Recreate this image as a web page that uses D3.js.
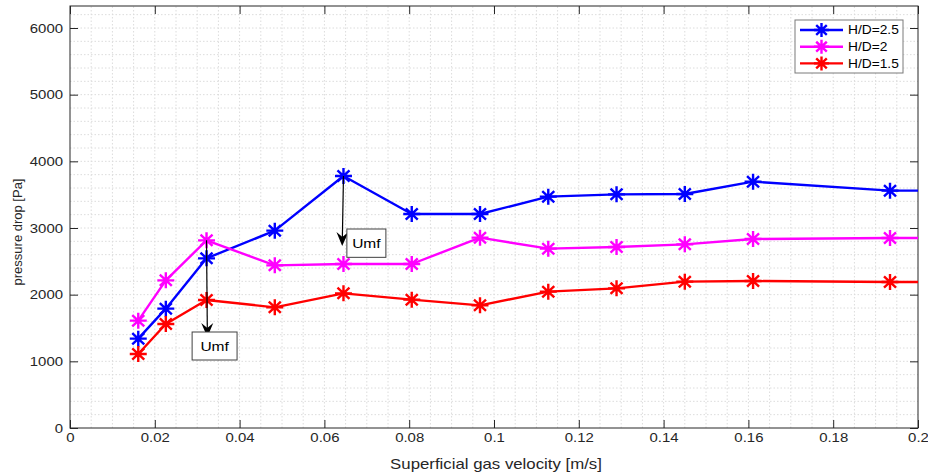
<!DOCTYPE html>
<html>
<head>
<meta charset="utf-8">
<script src="https://cdn.jsdelivr.net/npm/d3@7"></script>
<style>
  html, body { margin: 0; padding: 0; background: #fff; }
  svg { display: block; font-family: "Liberation Sans", Arial, Helvetica, sans-serif; }
</style>
</head>
<body>
<svg id="chart" width="928" height="475"></svg>
<script>
// Superficial gas velocity [m/s]
const velocity = [0.0161, 0.0226, 0.0322, 0.0483, 0.0645, 0.0806, 0.0967, 0.1128, 0.1289, 0.1450, 0.1611, 0.1934, 0.2256];

// Pressure drop [Pa] for each bed height ratio
const dpHD25 = [1340, 1790, 2545, 2960, 3780, 3210, 3210, 3470, 3505, 3510, 3695, 3560, 3560];
const dpHD20 = [1610, 2215, 2815, 2440, 2460, 2460, 2855, 2690, 2715, 2755, 2835, 2850, 2850];
const dpHD15 = [1110, 1560, 1920, 1810, 2020, 1925, 1840, 2045, 2095, 2195, 2205, 2190, 2190];

const seriesNames = ["H/D=2.5", "H/D=2", "H/D=1.5"];
const seriesColors = ["#0000ff", "#ff00ff", "#ff0000"];

const xTicks = [0, 0.02, 0.04, 0.06, 0.08, 0.1, 0.12, 0.14, 0.16, 0.18, 0.2];
const yTicks = [0, 1000, 2000, 3000, 4000, 5000, 6000];

// Minimum fluidisation markers: arrow start/end and label box corners (data units)
const umfArrows = [
  { x0: 0.0645, y0: 3780, x1: 0.0642, y1: 2730 },
  { x0: 0.0322, y0: 2815, x1: 0.0324, y1: 1365 }
];
const umfBoxes = [
  { x0: 0.0653, x1: 0.0745, y0: 2560, y1: 2985, text: "Umf" },
  { x0: 0.0288, x1: 0.0394, y0: 1020, y1: 1440, text: "Umf" }
];

const svg = d3.select("#chart");
const margin = { left: 70, right: 10, top: 6, bottom: 47 };
const W = 928, H = 475;
const x = d3.scaleLinear().domain([0, 0.2]).range([margin.left, W - margin.right]);
const y = d3.scaleLinear().domain([0, 6330]).range([H - margin.bottom, margin.top]);

const x0 = x.range()[0], x1 = x.range()[1];
const yb = y.range()[0], yt = y.range()[1];

// horizontally widened text
const SX = 1.15;
function stretch(sel) {
  sel.each(function () {
    const t = d3.select(this);
    const ax = +(t.attr("x") || 0);
    t.attr("transform", `translate(${ax},0) scale(${SX},1) translate(${-ax},0)`);
  });
}

// grid (minor + major, dotted)
const grid = svg.append("g");
grid.selectAll("line.gx").data(d3.range(0.005, 0.2, 0.005)).join("line")
  .attr("x1", d => x(d)).attr("x2", d => x(d)).attr("y1", yb).attr("y2", yt)
  .attr("stroke", "#dcdcdc").attr("stroke-width", 1).attr("stroke-dasharray", "1.5,2");
grid.selectAll("line.gy").data(d3.range(200, 6330, 200)).join("line")
  .attr("x1", x0).attr("x2", x1).attr("y1", d => y(d)).attr("y2", d => y(d))
  .attr("stroke", "#dcdcdc").attr("stroke-width", 1).attr("stroke-dasharray", "1.5,2");

// clip
svg.append("clipPath").attr("id", "plotclip").append("rect")
  .attr("x", x0).attr("y", yt).attr("width", x1 - x0).attr("height", yb - yt);

const tickLen = 8;
const axColor = "#262626";

const xAxisB = svg.append("g").attr("transform", `translate(0,${yb})`)
  .call(d3.axisBottom(x).tickValues(xTicks).tickSize(-tickLen).tickPadding(5)
    .tickFormat(d => d === 0 ? "0" : d3.format("")(+d.toFixed(2))));
const xAxisT = svg.append("g").attr("transform", `translate(0,${yt})`)
  .call(d3.axisTop(x).tickValues(xTicks).tickSize(-tickLen).tickFormat(""));
const yAxisL = svg.append("g").attr("transform", `translate(${x0},0)`)
  .call(d3.axisLeft(y).tickValues(yTicks).tickSize(-tickLen).tickPadding(7).tickFormat(d3.format("d")));
const yAxisR = svg.append("g").attr("transform", `translate(${x1},0)`)
  .call(d3.axisRight(y).tickValues(yTicks).tickSize(-tickLen).tickFormat(""));

[xAxisB, xAxisT, yAxisL, yAxisR].forEach(g => {
  g.select(".domain").remove();
  g.selectAll(".tick line").attr("stroke", axColor).attr("stroke-width", 1);
  g.selectAll(".tick text").attr("fill", axColor).attr("font-size", 13)
    .attr("font-family", "Liberation Sans, Arial, sans-serif").call(stretch);
});

// frame
svg.append("rect").attr("x", x0).attr("y", yt).attr("width", x1 - x0).attr("height", yb - yt)
  .attr("fill", "none").attr("stroke", axColor).attr("stroke-width", 1);

// axis labels
svg.append("text").attr("transform", `translate(496,469) scale(1.2,1)`).attr("text-anchor", "middle")
  .attr("font-size", 14).attr("fill", axColor).text("Superficial gas velocity [m/s]");
svg.append("text").attr("transform", `translate(22,232) rotate(-90)`)
  .attr("text-anchor", "middle").attr("font-size", 13).attr("fill", axColor).text("pressure drop [Pa]");

// asterisk marker path (8 arms)
function asterisk(rx, ry) {
  const dx = rx * Math.SQRT1_2, dy = ry * Math.SQRT1_2;
  return `M${-rx},0L${rx},0M0,${-ry}L0,${ry}M${-dx},${-dy}L${dx},${dy}M${-dx},${dy}L${dx},${-dy}`;
}

const seriesData = [dpHD25, dpHD20, dpHD15];
const plot = svg.append("g").attr("clip-path", "url(#plotclip)");
const line = d3.line().x(d => x(d[0])).y(d => y(d[1]));

seriesData.forEach((vals, i) => {
  const pts = velocity.map((v, k) => [v, vals[k]]);
  plot.append("path").datum(pts).attr("d", line)
    .attr("fill", "none").attr("stroke", seriesColors[i]).attr("stroke-width", 2.4)
    .attr("stroke-linejoin", "round");
  plot.selectAll(null).data(pts).join("path")
    .attr("transform", d => `translate(${x(d[0])},${y(d[1])})`)
    .attr("d", asterisk(8.5, 8)).attr("stroke", seriesColors[i]).attr("stroke-width", 2.4)
    .attr("fill", "none");
});

// Umf arrows
const arrowG = svg.append("g");
umfArrows.forEach(a => {
  const sx = x(a.x0), sy = y(a.y0), ex = x(a.x1), ey = y(a.y1);
  const ang = Math.atan2(ey - sy, ex - sx);
  const L = 14, Wd = 6, back = 9;
  arrowG.append("line").attr("x1", sx).attr("y1", sy).attr("x2", ex - Math.cos(ang) * 4).attr("y2", ey - Math.sin(ang) * 4)
    .attr("stroke", "#000").attr("stroke-width", 1.2);
  const ca = Math.cos(ang), sa = Math.sin(ang);
  const p = (u, v) => [ex + u * ca - v * sa, ey + u * sa + v * ca];
  const pts = [p(0, 0), p(-L, -Wd), p(-back, 0), p(-L, Wd)];
  arrowG.append("path").attr("d", "M" + pts.map(q => q.join(",")).join("L") + "Z").attr("fill", "#000");
});
umfBoxes.forEach(b => {
  const bx = x(b.x0), by = y(b.y1), bw = x(b.x1) - x(b.x0), bh = y(b.y0) - y(b.y1);
  arrowG.append("rect").attr("x", bx).attr("y", by).attr("width", bw).attr("height", bh)
    .attr("fill", "#fff").attr("stroke", "#404040").attr("stroke-width", 1);
  arrowG.append("text").attr("transform", `translate(${bx + bw / 2},${by + bh / 2 + 5}) scale(${SX},1)`)
    .attr("text-anchor", "middle").attr("font-size", 13.5).attr("fill", "#000").text(b.text);
});

// legend
const lg = svg.append("g").attr("transform", "translate(795,20)");
lg.append("rect").attr("x", 0).attr("y", 0).attr("width", 108).attr("height", 53)
  .attr("fill", "#fff").attr("stroke", "#7a7a7a").attr("stroke-width", 1);
seriesNames.forEach((name, i) => {
  const ry = 10 + i * 16.7;
  lg.append("line").attr("x1", 5).attr("x2", 48).attr("y1", ry).attr("y2", ry)
    .attr("stroke", seriesColors[i]).attr("stroke-width", 2.4);
  lg.append("path").attr("transform", `translate(26.5,${ry})`).attr("d", asterisk(7.5, 7))
    .attr("stroke", seriesColors[i]).attr("stroke-width", 2.4).attr("fill", "none");
  lg.append("text").attr("transform", `translate(53,${ry + 4.3}) scale(1.1,1)`)
    .attr("font-size", 12.5).attr("fill", "#000").text(name);
});
</script>
</body>
</html>
